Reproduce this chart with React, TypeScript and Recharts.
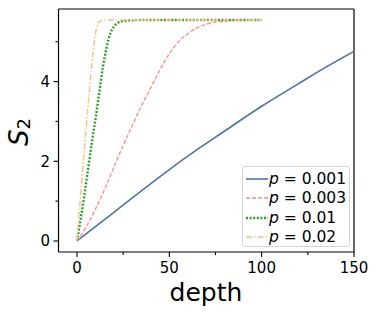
import React from 'react';
import { LineChart, Line, XAxis, YAxis, Legend, ReferenceLine } from 'recharts';

// p = 0.001
const depth001 = [0, 20, 40, 60, 80, 100, 120, 135, 150];
const s001 = [0, 0.72, 1.44, 2.13, 2.76, 3.38, 3.95, 4.37, 4.76];

// p = 0.003
const depth003 = [0, 5, 10, 15, 20, 25, 30, 35, 40, 45, 50, 55, 60, 65, 70, 80, 90, 100];
const s003 = [0, 0.35, 0.8, 1.3, 1.85, 2.4, 2.9, 3.4, 3.85, 4.3, 4.7, 5.0, 5.2, 5.35, 5.44, 5.52, 5.54, 5.545];

// p = 0.01
const depth01 = [0, 2, 4, 6, 8, 10, 12, 14, 16, 18, 20, 22, 25, 30, 35, 60, 80, 100];
const s01 = [0, 0.55, 1.15, 1.8, 2.45, 3.05, 3.7, 4.35, 4.85, 5.2, 5.38, 5.47, 5.52, 5.54, 5.545, 5.545, 5.545, 5.545];

// p = 0.02
const depth02 = [0, 2, 4, 6, 8, 10, 11, 12, 14, 16, 40, 60, 80, 100];
const s02 = [0, 1.15, 2.3, 3.4, 4.4, 5.2, 5.42, 5.5, 5.54, 5.545, 5.545, 5.545, 5.545, 5.545];

const labels = ['0.001', '0.003', '0.01', '0.02'];
const depths = [depth001, depth003, depth01, depth02];
const values = [s001, s003, s01, s02];

const xDomain = [-10, 150];
const yDomain = [-0.277, 5.822];
const xTicks = [0, 25, 50, 75, 100, 125, 150];
const yTicks = [0, 1, 2, 3, 4, 5];

const styles = [
  { color: '#4c72b0', dash: undefined, width: 1.6 },
  { color: '#ff8f8a', dash: '4 2', width: 1.4 },
  { color: '#2ca02c', dash: '2 1.6', width: 2.4 },
  { color: '#ffbf7f', dash: '6 2 1.5 2', width: 1.5 },
];

const FONT = 'DejaVu Sans';

const series = labels.map((label, i) => ({
  label,
  data: depths[i].map((d, j) => ({ depth: d, s: values[i][j] })),
  ...styles[i],
}));

const XTick = (props: any) => {
  const { x, y, payload } = props;
  const major = payload.value % 50 === 0;
  return (
    <g>
      <line x1={x} x2={x} y1={y} y2={y + (major ? 5 : 3)} stroke="#000" strokeWidth={1.1} />
      {major && (
        <text x={x} y={y + 21} textAnchor="middle" fontSize={15} fontFamily={FONT} fill="#000">
          {payload.value}
        </text>
      )}
    </g>
  );
};

const YTick = (props: any) => {
  const { x, y, payload } = props;
  const major = payload.value % 2 === 0;
  return (
    <g>
      <line x1={x - (major ? 5 : 3)} x2={x} y1={y} y2={y} stroke="#000" strokeWidth={1.1} />
      {major && (
        <text x={x - 8.5} y={y + 5.5} textAnchor="end" fontSize={15} fontFamily={FONT} fill="#000">
          {payload.value}
        </text>
      )}
    </g>
  );
};

const YLabel = () => (
  <text
    x={28}
    y={132}
    transform="rotate(-90, 28, 132)"
    textAnchor="middle"
    fontSize={26}
    fontFamily={FONT}
    fontStyle="italic"
    fill="#000"
  >
    S<tspan fontSize={18} dy={2} fontStyle="normal">2</tspan>
  </text>
);

const XLabel = () => (
  <text x={206} y={301} textAnchor="middle" fontSize={25} fontFamily={FONT} fill="#000">
    depth
  </text>
);

const LegendBox = () => (
  <div
    style={{
      width: 108,
      height: 81,
      boxSizing: 'border-box',
      border: '1px solid #d4d4d4',
      borderRadius: 3,
      background: 'rgba(255,255,255,0.8)',
      paddingTop: 2,
    }}
  >
    {series.map((s) => (
      <div key={s.label} style={{ display: 'flex', alignItems: 'center', height: 19.5 }}>
        <svg width={24} height={10} style={{ marginLeft: 2 }}>
          <line
            x1={1}
            x2={23}
            y1={5}
            y2={5}
            stroke={s.color}
            strokeWidth={s.width}
            strokeDasharray={s.dash}
          />
        </svg>
        <span style={{ fontFamily: FONT, fontSize: 15.5, color: '#000', whiteSpace: 'nowrap' }}>
          <i>p</i> = {s.label}
        </span>
      </div>
    ))}
  </div>
);

export default function App() {
  return (
    <div style={{ position: 'fixed', left: 0, top: 0, background: '#fff' }}>
      <LineChart width={379} height={316} margin={{ top: 9, right: 25, left: 0, bottom: 0 }}>
        <XAxis
          dataKey="depth"
          type="number"
          domain={xDomain}
          ticks={xTicks}
          interval={0}
          allowDataOverflow
          height={64}
          tickSize={0}
          tickMargin={0}
          tickLine={false}
          tick={<XTick />}
          axisLine={{ stroke: '#000', strokeWidth: 1.2 }}
          label={{ content: <XLabel /> }}
        />
        <YAxis
          type="number"
          domain={yDomain}
          ticks={yTicks}
          interval={0}
          allowDataOverflow
          width={58.5}
          tickSize={0}
          tickMargin={0}
          tickLine={false}
          tick={<YTick />}
          axisLine={{ stroke: '#000', strokeWidth: 1.2 }}
          label={{ content: <YLabel /> }}
        />
        <ReferenceLine y={yDomain[1]} stroke="#000" strokeWidth={1.2} ifOverflow="extendDomain" />
        <ReferenceLine x={xDomain[1]} stroke="#000" strokeWidth={1.2} ifOverflow="extendDomain" />
        {series.map((s) => (
          <Line
            key={s.label}
            data={s.data}
            dataKey="s"
            type="monotone"
            stroke={s.color}
            strokeWidth={s.width}
            strokeDasharray={s.dash}
            dot={false}
            activeDot={false}
            isAnimationActive={false}
          />
        ))}
        <Legend
          layout="horizontal"
          verticalAlign="middle"
          align="center"
          content={<LegendBox />}
          wrapperStyle={{ left: 242, top: 166, width: 108, height: 81 }}
        />
      </LineChart>
    </div>
  );
}
